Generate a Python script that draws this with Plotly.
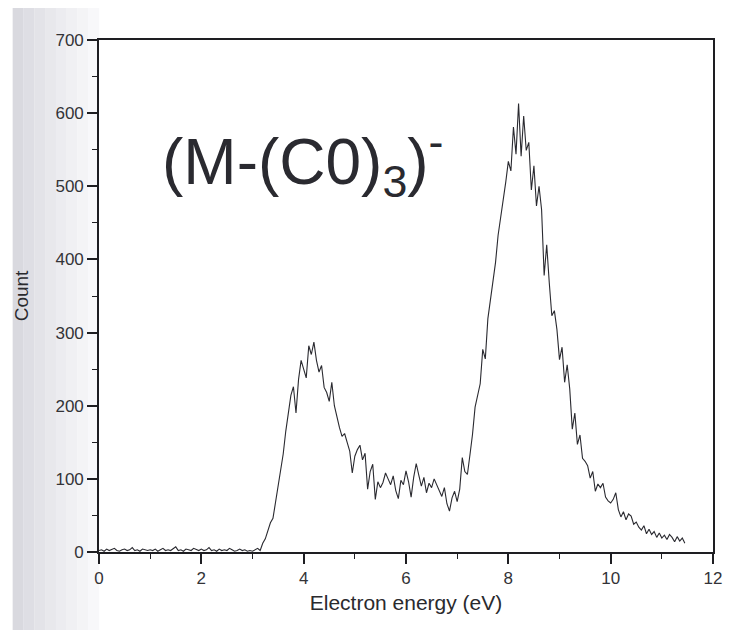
import plotly.graph_objects as go

# Electron energy grid step (eV) and counts
step = 0.05
counts = [
    # 0.00 - 0.95
    2, 3, 1, 4, 2, 3, 5, 2, 1, 3, 4, 2, 3, 6, 2, 3, 1, 4, 3, 2,
    # 1.00 - 1.95
    3, 2, 4, 1, 3, 5, 2, 3, 2, 4, 7, 2, 3, 1, 4, 3, 2, 5, 3, 2,
    # 2.00 - 2.95
    4, 2, 3, 6, 2, 3, 1, 4, 2, 3, 2, 5, 3, 1, 2, 4, 2, 3, 1, 2,
    # 3.00 - 3.95
    1, 3, 5, 2, 12, 18, 28, 40, 46, 68, 92, 108, 134, 165, 190, 214, 226, 190, 236, 262,
    # 4.00 - 4.95
    250, 238, 282, 270, 287, 262, 246, 255, 225, 218, 206, 232, 200, 184, 170, 158, 162, 150, 138, 108,
    # 5.00 - 5.95
    131, 140, 146, 126, 135, 86, 110, 120, 72, 96, 88, 95, 108, 100, 92, 104, 84, 73, 98, 92,
    # 6.00 - 6.95
    111, 96, 75, 102, 121, 105, 90, 102, 81, 94, 88, 100, 92, 84, 76, 88, 66, 56, 74, 83,
    # 7.00 - 7.95
    69, 86, 129, 110, 106, 133, 161, 198, 212, 230, 277, 264, 319, 346, 368, 396, 433, 457, 479, 506,
    # 8.00 - 8.95
    534, 521, 581, 544, 613, 541, 596, 549, 560, 495, 528, 473, 500, 468, 378, 420, 368, 323, 330, 304,
    # 9.00 - 9.95
    263, 280, 232, 256, 223, 168, 190, 147, 160, 128, 124, 118, 101, 110, 83, 93, 88, 94, 75, 70,
    # 10.00 - 10.95
    67, 72, 81, 58, 48, 55, 44, 52, 49, 38, 41, 34, 30, 36, 25, 31, 24, 28, 20, 26,
    # 11.00 - 11.45
    19, 23, 17, 24, 20, 14, 21, 15, 19, 12,
]
energy = [round(i * step, 2) for i in range(len(counts))]

x_ticks = [0, 2, 4, 6, 8, 10, 12]
y_ticks = [0, 100, 200, 300, 400, 500, 600, 700]
label_text = "(M-(C0)<sub>3</sub>)<sup>-</sup>"
x_title = "Electron energy (eV)"
y_title = "Count"

FONT = "Liberation Sans, Arial, sans-serif"
INK = "#1e1e22"

fig = go.Figure()
fig.add_trace(go.Scatter(
    x=energy, y=counts, mode="lines",
    line=dict(color="#2a2a30", width=1.1),
    showlegend=False, hoverinfo="skip",
))

axis_common = dict(
    showline=True, linecolor=INK, linewidth=1.6, mirror=True,
    showgrid=False, zeroline=False,
    ticks="outside", ticklen=10, tickwidth=1.5, tickcolor=INK,
    tickfont=dict(family=FONT, size=17, color="#333337"),
)

fig.update_xaxes(
    range=[0, 12], tickvals=x_ticks,
    minor=dict(ticks="outside", ticklen=5, tickwidth=1.3, tickcolor=INK, dtick=1),
    title=dict(text=x_title, font=dict(family=FONT, size=21, color="#2a2a2e"), standoff=8),
    **axis_common,
)
fig.update_yaxes(
    range=[0, 700], tickvals=y_ticks,
    minor=dict(ticks="outside", ticklen=5, tickwidth=1.3, tickcolor=INK, dtick=50),
    title=dict(text=y_title, font=dict(family=FONT, size=19, color="#2a2a2e"), standoff=22),
    **axis_common,
)

# light grey scan shading along the left edge (page x 8 -> 96 maps to paper -0.1406 -> 0)
shade_cols = ["#d9d9df", "#dedee4", "#e3e3e8", "#e8e8ec", "#ececf0", "#f0f0f3", "#f4f4f6", "#f8f8fa"]
for i, col in enumerate(shade_cols):
    x0 = -0.1406 + i * 0.01758
    fig.add_shape(type="rect", xref="paper", yref="paper", x0=x0, x1=x0 + 0.0178,
                  y0=-0.16, y1=1.07, fillcolor=col, line=dict(width=0), layer="below")

fig.add_annotation(
    text=label_text, xref="paper", yref="paper", x=0.1, y=0.764,
    xanchor="left", yanchor="middle", showarrow=False,
    font=dict(family=FONT, size=64, color="#2a2a30"),
)

fig.update_layout(
    width=726, height=622,
    margin=dict(l=88, r=12, t=32, b=78),
    paper_bgcolor="white", plot_bgcolor="white",
)

fig.write_html("out.html")
